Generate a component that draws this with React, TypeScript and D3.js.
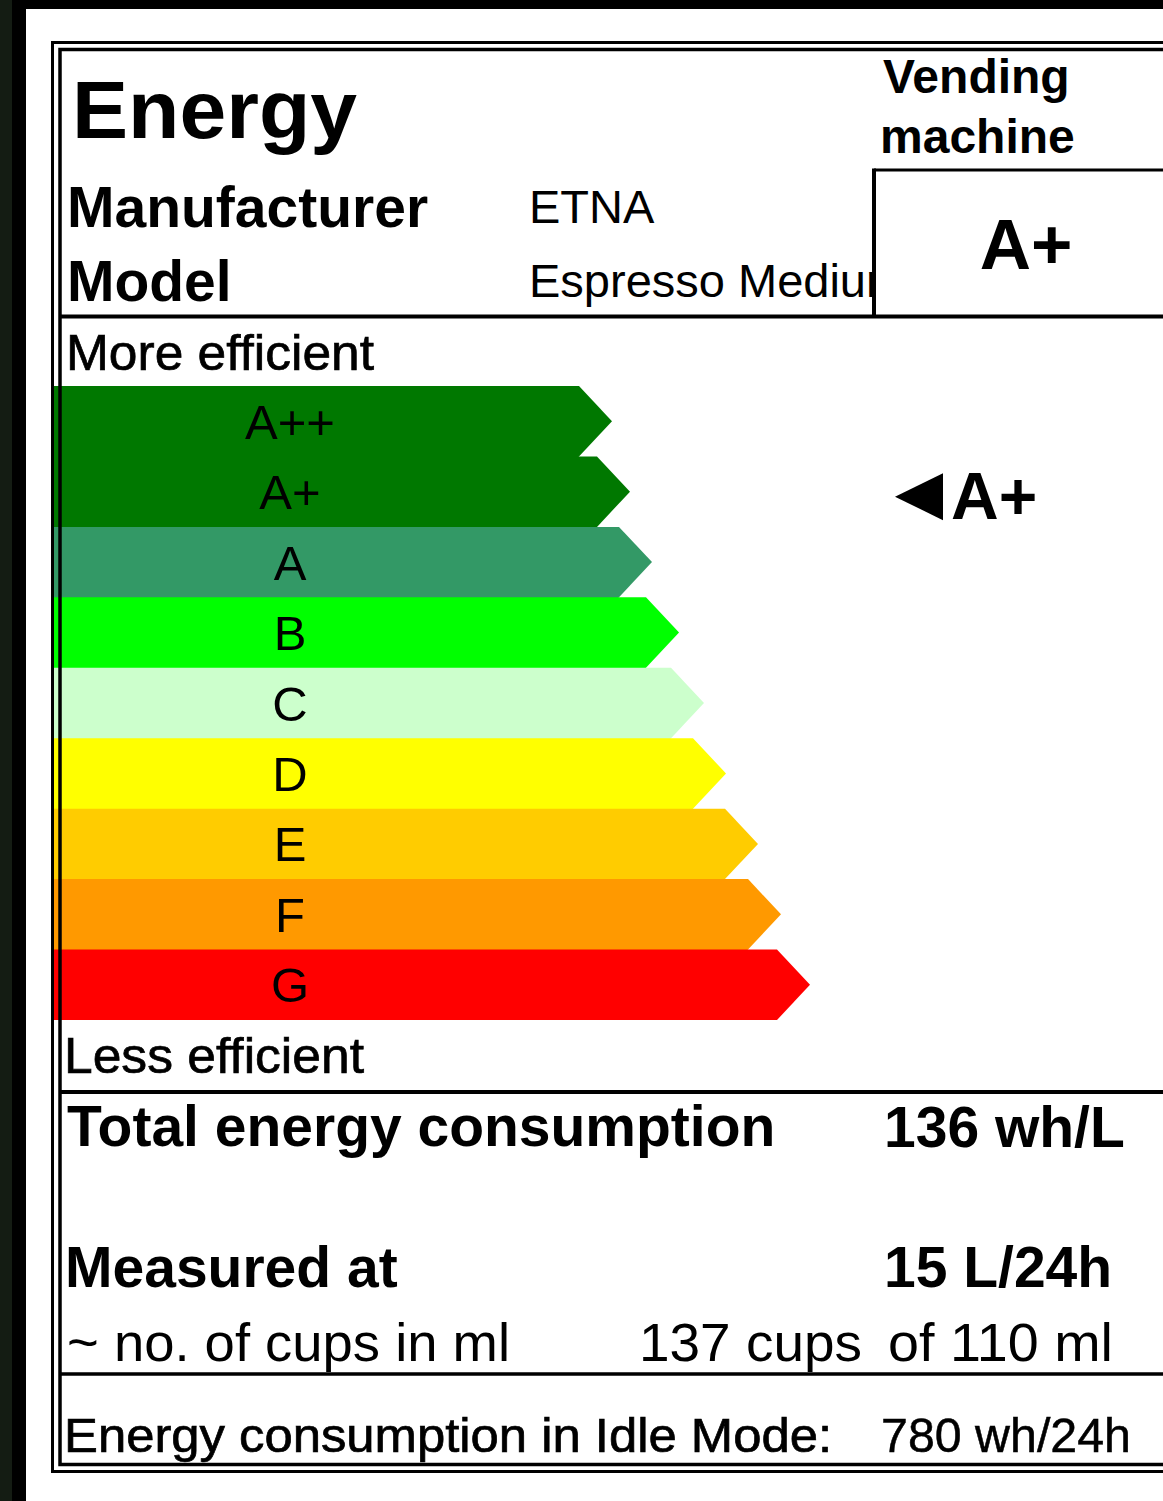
import React, { useEffect, useRef } from "react";
import * as d3 from "d3";

// energy classes, top (best) to bottom
const ratingClasses = ["A++", "A+", "A", "B", "C", "D", "E", "F", "G"];
const classColors = ["#007800", "#007800", "#339966", "#00ff00", "#ccffcc", "#ffff00", "#ffcc00", "#ff9900", "#ff0000"];
// arrow length (tip) for each class
const arrowLengths = [558, 576, 598, 625, 650, 672, 704, 727, 756];

const applianceType = ["Vending", "machine"];
const headerLabels = ["Manufacturer", "Model"];
const headerValues = ["ETNA", "Espresso Medium"];
const productRating = "A+";

const consumptionLabels = ["Total energy consumption", "Measured at"];
const consumptionValues = ["136 wh/L", "15 L/24h"];
const cupsLabel = "~ no. of cups in ml";
const cupsValues = ["137 cups", "of 110 ml"];
const idleLabel = "Energy consumption in Idle Mode:";
const idleValue = "780 wh/24h";

const W = 1163;
const H = 1501;
const FONT = "'Liberation Sans', Arial, sans-serif";

export default function App() {
    const ref = useRef<SVGSVGElement>(null);

    useEffect(() => {
        const svg = d3.select(ref.current);
        svg.selectAll("*").remove();

        // photo background
        svg.append("rect").attr("width", W).attr("height", H).attr("fill", "#000");
        svg.append("rect").attr("width", 12).attr("height", H).attr("fill", "#141c13");
        svg.append("rect").attr("x", 26).attr("y", 9).attr("width", W - 26).attr("height", H - 9).attr("fill", "#fff");

        // outer border line (right side runs past the picture)
        svg.append("rect")
            .attr("x", 52.5).attr("y", 42.5).attr("width", 1200).attr("height", 1429)
            .attr("fill", "none").attr("stroke", "#000").attr("stroke-width", 3);

        const y = d3.scaleBand<string>().domain(ratingClasses).range([386, 1020]).padding(0);
        const x = d3.scaleLinear().domain([0, d3.max(arrowLengths)!]).range([54, 810]);
        const bh = y.bandwidth();
        const tip = 33;

        const rows = ratingClasses.map((c, i) => ({ c, color: classColors[i], len: arrowLengths[i], last: i === ratingClasses.length - 1 }));

        // each arrow reaches 1px into the next row so no seam shows
        const arrowPath = (d: { c: string; len: number; last: boolean }) => {
            const y0 = y(d.c)!;
            const xt = x(d.len);
            const ext = d.last ? 0 : 1;
            const p = d3.path();
            p.moveTo(x(0), y0);
            p.lineTo(xt - tip, y0);
            p.lineTo(xt, y0 + bh / 2);
            p.lineTo(xt - tip, y0 + bh);
            p.lineTo(xt - tip - ext, y0 + bh + ext);
            p.lineTo(x(0), y0 + bh + ext);
            p.closePath();
            return p.toString();
        };

        const bars = svg.append("g");
        bars.selectAll("path")
            .data(rows)
            .enter()
            .append("path")
            .attr("d", arrowPath)
            .attr("fill", d => d.color);

        bars.selectAll("text")
            .data(rows)
            .enter()
            .append("text")
            .attr("x", 290)
            .attr("y", d => y(d.c)! + bh / 2 + 17.5)
            .attr("text-anchor", "middle")
            .style("font-family", FONT)
            .style("font-size", "49px")
            .attr("fill", "#000")
            .text(d => d.c);

        // inner border line
        svg.append("rect")
            .attr("x", 60).attr("y", 49.5).attr("width", 1200).attr("height", 1415)
            .attr("fill", "none").attr("stroke", "#000").attr("stroke-width", 3.5);

        // separators
        const hLine = (x1: number, yy: number, w: number) =>
            svg.append("line").attr("x1", x1).attr("x2", W + 10).attr("y1", yy).attr("y2", yy)
                .attr("stroke", "#000").attr("stroke-width", w);
        hLine(60, 316.5, 4);
        hLine(874, 170, 3);
        hLine(60, 1092, 4);
        hLine(60, 1374, 3.7);
        svg.append("line").attr("x1", 874).attr("x2", 874).attr("y1", 168.5).attr("y2", 316)
            .attr("stroke", "#000").attr("stroke-width", 4);

        const txt = (s: string, tx: number, ty: number, size: number, bold = false, anchor = "start") =>
            svg.append("text")
                .attr("x", tx).attr("y", ty)
                .attr("text-anchor", anchor)
                .style("font-family", FONT)
                .style("font-size", size + "px")
                .style("font-weight", bold ? "bold" : "normal")
                .attr("fill", "#000")
                .text(s);

        // header
        txt("Energy", 72, 138, 82, true).attr("textLength", 285).attr("lengthAdjust", "spacingAndGlyphs");
        txt(applianceType[0], 883, 93, 48, true);
        txt(applianceType[1], 880, 153, 48, true);
        txt(headerLabels[0], 67, 227, 57, true);
        txt(headerLabels[1], 67, 301, 57, true);

        svg.append("clipPath").attr("id", "modelClip")
            .append("rect").attr("x", 0).attr("y", 0).attr("width", 872).attr("height", 316);
        txt(headerValues[0], 529, 223, 47).attr("clip-path", "url(#modelClip)");
        txt(headerValues[1], 529, 297, 47).attr("clip-path", "url(#modelClip)");
        txt(productRating, 1026, 269, 71, true, "middle");

        txt("More efficient", 66, 370, 50).attr("textLength", 308).attr("lengthAdjust", "spacingAndGlyphs")
            .attr("stroke", "#000").attr("stroke-width", 0.7);
        txt("Less efficient", 64, 1073, 50).attr("textLength", 300).attr("lengthAdjust", "spacingAndGlyphs")
            .attr("stroke", "#000").attr("stroke-width", 0.7);

        // pointer to the product class
        const cy = y(productRating)! + bh / 2 + 5;
        svg.append("path")
            .attr("d", d3.line()([[943, cy - 23.5], [943, cy + 23.5], [895, cy]]) + "Z")
            .attr("fill", "#000");
        txt(productRating, 951, 519, 66, true);

        // consumption block
        txt(consumptionLabels[0], 67, 1146, 57, true);
        txt(consumptionValues[0], 884, 1147, 57, true);
        txt(consumptionLabels[1], 65, 1287, 57, true);
        txt(consumptionValues[1], 884, 1287, 57, true);
        txt(cupsLabel, 67, 1361, 54).attr("textLength", 443).attr("lengthAdjust", "spacingAndGlyphs");
        txt(cupsValues[0], 862, 1361, 54, false, "end").attr("textLength", 223).attr("lengthAdjust", "spacingAndGlyphs");
        txt(cupsValues[1], 888, 1361, 54).attr("textLength", 225).attr("lengthAdjust", "spacingAndGlyphs");

        txt(idleLabel, 64, 1452, 48).attr("textLength", 768).attr("lengthAdjust", "spacingAndGlyphs")
            .attr("stroke", "#000").attr("stroke-width", 0.7);
        txt(idleValue, 881, 1452, 48).attr("textLength", 250).attr("lengthAdjust", "spacingAndGlyphs")
            .attr("stroke", "#000").attr("stroke-width", 0.5);
    }, []);

    return (
        <svg ref={ref} width={W} height={H}
            style={{ position: "absolute", left: 0, top: 0, display: "block" }} />
    );
}
